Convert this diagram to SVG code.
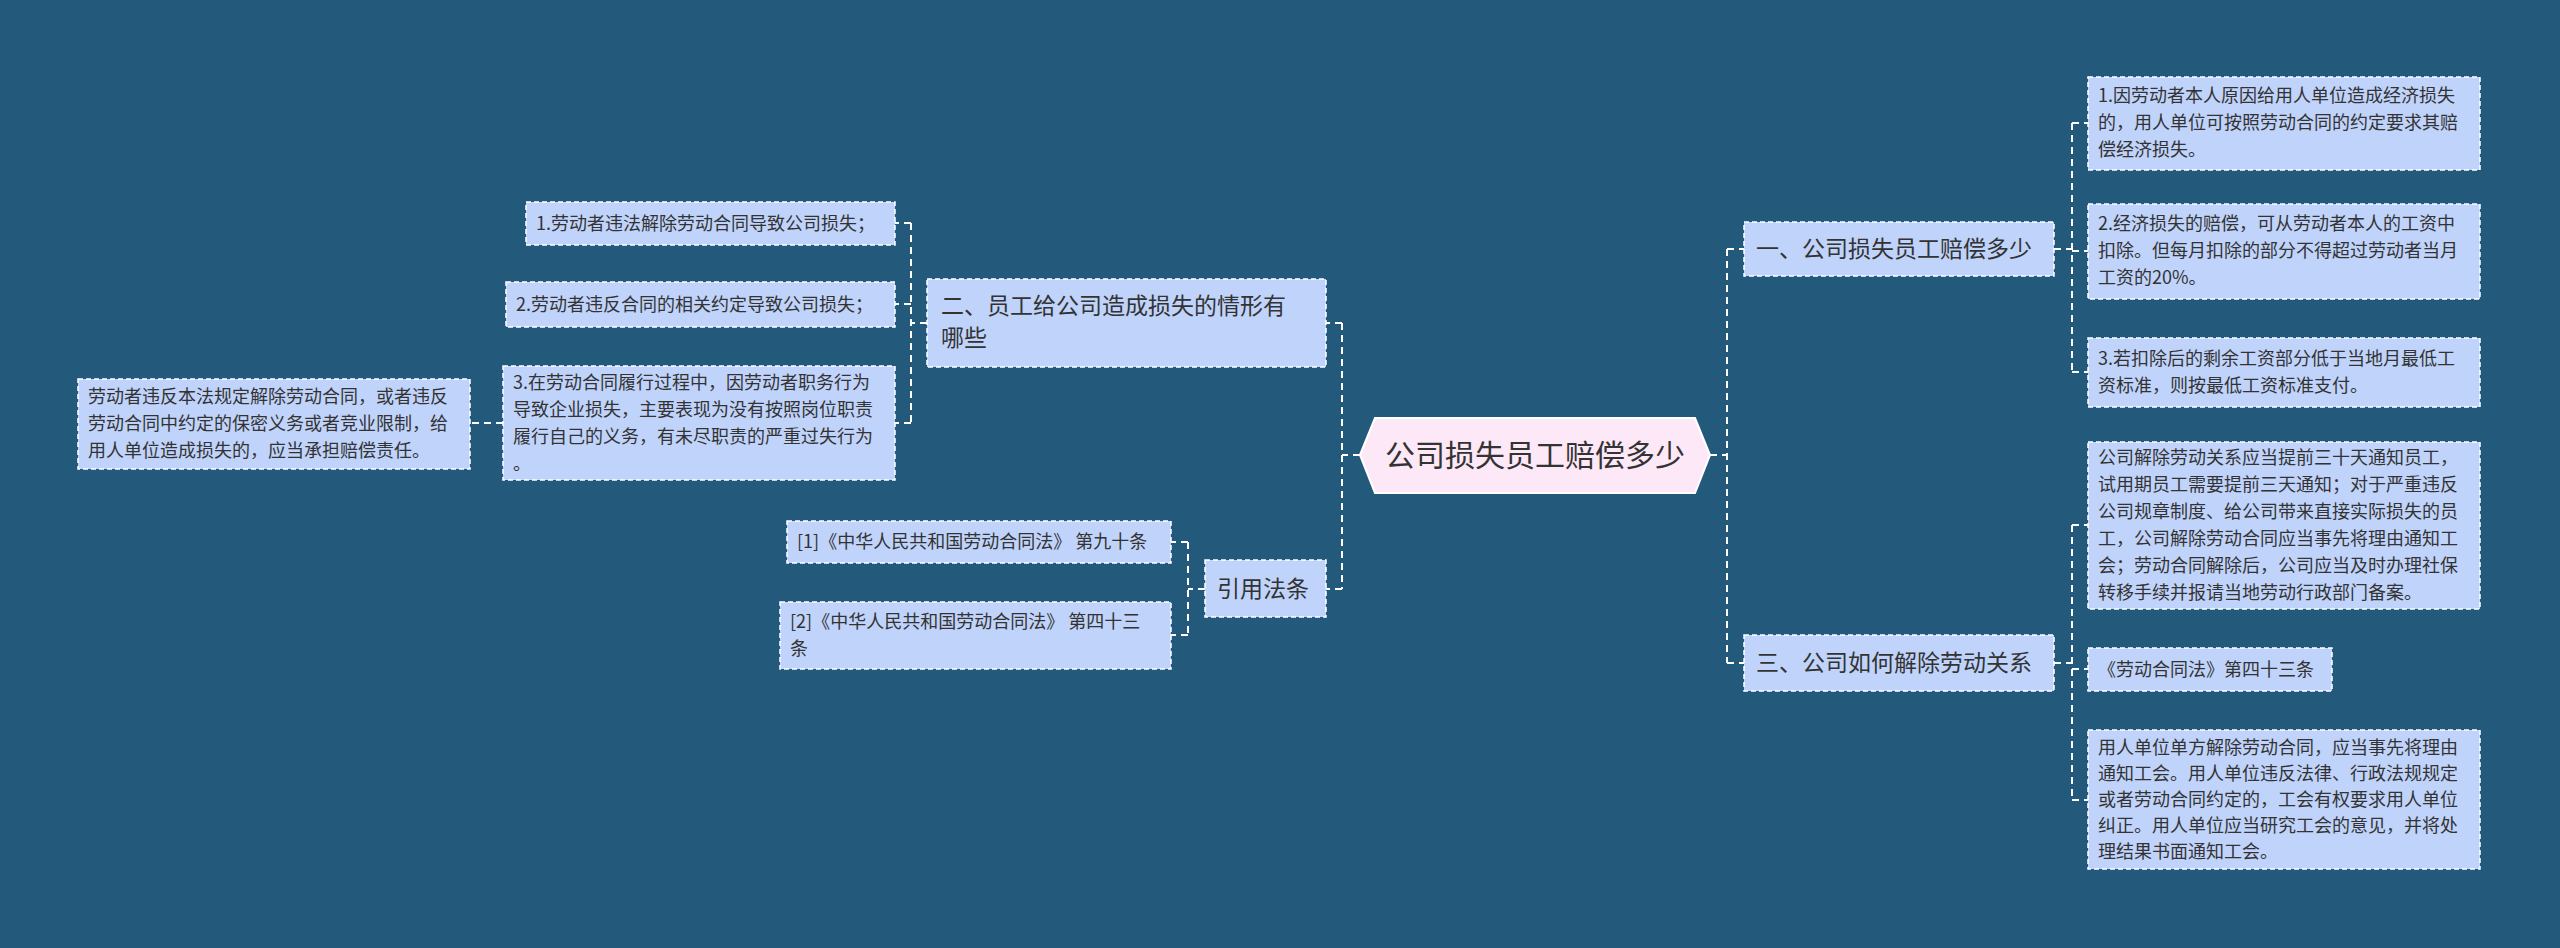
<svg xmlns="http://www.w3.org/2000/svg" width="2560" height="948" viewBox="0 0 2560 948">
<style>
.n{fill:#c0d3fb;stroke:#fff;stroke-width:1.5;stroke-dasharray:5 3}
.t{font-family:"Noto Sans CJK SC","Noto Sans",sans-serif;fill:#333;font-size:18px}
.m{font-size:23px}
.c{fill:none;stroke:#fff;stroke-width:2;stroke-dasharray:7 5}
</style>
<rect width="2560" height="948" fill="#235a7c"/>
<g id="connectors" class="c">
<path d="M1360 455H1342M1342 323V589M1342 323H1326M1342 589H1326"/>
<path d="M1710 455H1727M1727 249V663M1727 249H1744M1727 663H1744"/>
<path d="M2054 249H2072M2072 123V372M2072 123H2088M2072 251H2088M2072 372H2088"/>
<path d="M2054 663H2072M2072 525V800M2072 525H2088M2072 669H2088M2072 800H2088"/>
<path d="M927 323H911M911 223V423M911 223H895M911 304H895M911 423H895"/>
<path d="M503 423H470"/>
<path d="M1205 589H1188M1188 542V635M1188 542H1171M1188 635H1171"/>
</g>
<g id="center"><polygon points="1360,455 1375,418 1695,418 1710,455 1695,493 1375,493" fill="#fde8f8" stroke="#fff" stroke-width="2"/><text class="t" x="1535" y="466" text-anchor="middle" style="font-size:30px">公司损失员工赔偿多少</text></g>
<g id="n2"><rect class="n" x="927" y="279" width="399" height="88"/><text class="t m" x="941" y="314">二、员工给公司造成损失的情形有</text><text class="t m" x="941" y="346">哪些</text></g>
<g id="nref"><rect class="n" x="1205" y="560" width="121" height="57"/><text class="t m" x="1217" y="597">引用法条</text></g>
<g id="n1"><rect class="n" x="1744" y="222" width="310" height="54"/><text class="t m" x="1756" y="257">一、公司损失员工赔偿多少</text></g>
<g id="n3"><rect class="n" x="1744" y="635" width="310" height="56"/><text class="t m" x="1756" y="671">三、公司如何解除劳动关系</text></g>
<g id="l1"><rect class="n" x="526" y="202" width="369" height="43"/><text class="t" x="536" y="230">1.劳动者违法解除劳动合同导致公司损失；</text></g>
<g id="l2"><rect class="n" x="506" y="282" width="389" height="45"/><text class="t" x="516" y="311">2.劳动者违反合同的相关约定导致公司损失；</text></g>
<g id="l3"><rect class="n" x="503" y="366" width="392" height="114"/><text class="t" x="513" y="389">3.在劳动合同履行过程中，因劳动者职务行为</text><text class="t" x="513" y="416">导致企业损失，主要表现为没有按照岗位职责</text><text class="t" x="513" y="443">履行自己的义务，有未尽职责的严重过失行为</text><text class="t" x="513" y="470">。</text></g>
<g id="l3a"><rect class="n" x="78" y="379" width="392" height="90"/><text class="t" x="88" y="403">劳动者违反本法规定解除劳动合同，或者违反</text><text class="t" x="88" y="430">劳动合同中约定的保密义务或者竞业限制，给</text><text class="t" x="88" y="457">用人单位造成损失的，应当承担赔偿责任。</text></g>
<g id="r1"><rect class="n" x="787" y="521" width="384" height="42"/><text class="t" x="797" y="548">[1]《中华人民共和国劳动合同法》 第九十条</text></g>
<g id="r2"><rect class="n" x="780" y="602" width="391" height="67"/><text class="t" x="790" y="628">[2]《中华人民共和国劳动合同法》 第四十三</text><text class="t" x="790" y="655">条</text></g>
<g id="a1"><rect class="n" x="2088" y="77" width="392" height="93"/><text class="t" x="2098" y="102">1.因劳动者本人原因给用人单位造成经济损失</text><text class="t" x="2098" y="129">的，用人单位可按照劳动合同的约定要求其赔</text><text class="t" x="2098" y="156">偿经济损失。</text></g>
<g id="a2"><rect class="n" x="2088" y="204" width="392" height="95"/><text class="t" x="2098" y="230">2.经济损失的赔偿，可从劳动者本人的工资中</text><text class="t" x="2098" y="257">扣除。但每月扣除的部分不得超过劳动者当月</text><text class="t" x="2098" y="284">工资的20%。</text></g>
<g id="a3"><rect class="n" x="2088" y="338" width="392" height="69"/><text class="t" x="2098" y="365">3.若扣除后的剩余工资部分低于当地月最低工</text><text class="t" x="2098" y="392">资标准，则按最低工资标准支付。</text></g>
<g id="b1"><rect class="n" x="2088" y="442" width="392" height="167"/><text class="t" x="2098" y="464">公司解除劳动关系应当提前三十天通知员工，</text><text class="t" x="2098" y="491">试用期员工需要提前三天通知；对于严重违反</text><text class="t" x="2098" y="518">公司规章制度、给公司带来直接实际损失的员</text><text class="t" x="2098" y="545">工，公司解除劳动合同应当事先将理由通知工</text><text class="t" x="2098" y="572">会；劳动合同解除后，公司应当及时办理社保</text><text class="t" x="2098" y="599">转移手续并报请当地劳动行政部门备案。</text></g>
<g id="b2"><rect class="n" x="2088" y="648" width="244" height="43"/><text class="t" x="2098" y="676">《劳动合同法》第四十三条</text></g>
<g id="b3"><rect class="n" x="2088" y="730" width="392" height="139"/><text class="t" x="2098" y="754">用人单位单方解除劳动合同，应当事先将理由</text><text class="t" x="2098" y="780">通知工会。用人单位违反法律、行政法规规定</text><text class="t" x="2098" y="806">或者劳动合同约定的，工会有权要求用人单位</text><text class="t" x="2098" y="832">纠正。用人单位应当研究工会的意见，并将处</text><text class="t" x="2098" y="858">理结果书面通知工会。</text></g>
</svg>
